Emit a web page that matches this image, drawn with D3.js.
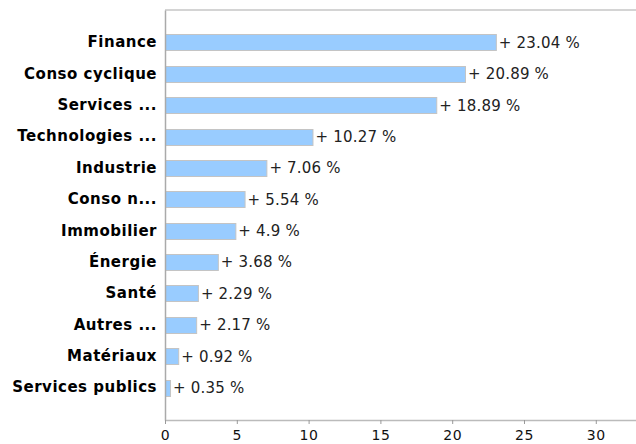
<!DOCTYPE html>
<html>
<head>
<meta charset="utf-8">
<script src="https://cdn.jsdelivr.net/npm/d3@7"></script>
<style>
  html, body { margin: 0; padding: 0; background: #fff; }
  svg { display: block; }
</style>
</head>
<body>
<svg id="chart" width="636" height="444"></svg>
<script>
const categories = ["Finance", "Conso cyclique", "Services ...", "Technologies ...", "Industrie", "Conso n...", "Immobilier", "Énergie", "Santé", "Autres ...", "Matériaux", "Services publics"];
const values = [23.04, 20.89, 18.89, 10.27, 7.06, 5.54, 4.9, 3.68, 2.29, 2.17, 0.92, 0.35];
const valueLabels = ["+ 23.04 %", "+ 20.89 %", "+ 18.89 %", "+ 10.27 %", "+ 7.06 %", "+ 5.54 %", "+ 4.9 %", "+ 3.68 %", "+ 2.29 %", "+ 2.17 %", "+ 0.92 %", "+ 0.35 %"];
const tickValues = [0, 5, 10, 15, 20, 25, 30];

(function () {
const data = categories.map((c, i) => ({ cat: c, v: values[i], label: valueLabels[i] }));

const svg = d3.select("#chart");
const mLeft = 165, mRight = 636, mTop = 10, mBottom = 420;

const x = d3.scaleLinear().domain([0, 32.8]).range([mLeft, mRight]);
const y = d3.scaleBand().domain(categories).range([mTop, mBottom])
  .paddingInner(0.49).paddingOuter(0.775);

// top frame line
svg.append("line")
  .attr("x1", mLeft).attr("x2", mRight)
  .attr("y1", mTop).attr("y2", mTop)
  .attr("stroke", "#d4d4d4").attr("stroke-width", 2);

// bars
svg.append("g").selectAll("rect").data(data).join("rect")
  .attr("x", x(0) + 0.5)
  .attr("y", d => Math.round(y(d.cat)) + 0.5)
  .attr("width", d => Math.max(0, x(d.v) - x(0)))
  .attr("height", Math.round(y.bandwidth()))
  .attr("fill", "#99ccff")
  .attr("stroke", "#c4c4c4")
  .attr("stroke-width", 1);

// value labels
svg.append("g").selectAll("text").data(data).join("text")
  .attr("x", d => x(d.v) + 3)
  .attr("y", d => y(d.cat) + y.bandwidth() / 2)
  .attr("dy", "0.36em")
  .attr("font-family", "DejaVu Sans, sans-serif")
  .attr("font-size", 15)
  .attr("letter-spacing", "0.2px")
  .attr("fill", "#222")
  .text(d => d.label);

// left axis (categories)
const yAxis = svg.append("g")
  .attr("transform", `translate(${mLeft},0)`)
  .call(d3.axisLeft(y).tickSize(0).tickPadding(8).tickSizeOuter(0));
yAxis.select(".domain").attr("stroke", "#aaa").attr("stroke-width", 1.5);
yAxis.selectAll("text")
  .attr("font-family", "DejaVu Sans, sans-serif")
  .attr("font-size", 15)
  .attr("font-weight", "bold")
  .attr("letter-spacing", "0.5px")
  .attr("fill", "#000");

// bottom axis
const xAxis = svg.append("g")
  .attr("transform", `translate(0,${mBottom})`)
  .call(d3.axisBottom(x).tickValues(tickValues).tickFormat(d3.format("d")).tickSize(4).tickSizeOuter(0).tickPadding(6));
xAxis.select(".domain").attr("stroke", "#bbb").attr("stroke-width", 1.5);
xAxis.selectAll(".tick line").attr("stroke", "#999");
xAxis.selectAll("text")
  .attr("font-family", "DejaVu Sans, sans-serif")
  .attr("font-size", 14)
  .attr("letter-spacing", "0.6px")
  .attr("fill", "#111");
})();
</script>
</body>
</html>
